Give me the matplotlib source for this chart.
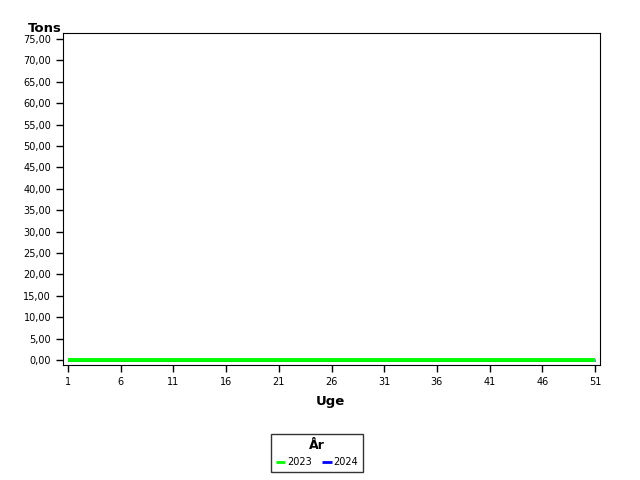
import numpy as np
import matplotlib
matplotlib.use('Agg')
import matplotlib.pyplot as plt

### Data
weeks = list(range(1, 52))
tons_2023 = [0.0] * 51
tons_2024 = [0.0] * 51
y_ticks = [0, 5, 10, 15, 20, 25, 30, 35, 40, 45, 50, 55, 60, 65, 70, 75]
x_ticks = [1, 6, 11, 16, 21, 26, 31, 36, 41, 46, 51]

### Figure
fig = plt.figure(figsize=(6.4, 4.8), dpi=100)
ax = fig.add_axes([63/640, 1-365/480, 537/640, 332/480])

## 2024 sits under 2023 (both zero)
ax.plot(weeks, tons_2024, color='#0000ff', lw=2.0, label='2024', solid_capstyle='butt')
ax.plot(weeks, tons_2023, color='#00ff00', lw=2.8, label='2023', solid_capstyle='butt')

ax.set_xlim(0.53, 51.47)
ax.set_ylim(-1.17, 76.4)
ax.set_xticks(x_ticks)
ax.set_yticks(y_ticks)
ax.set_yticklabels([('%.2f' % v).replace('.', ',') for v in y_ticks])
ax.tick_params(direction='out', length=5, width=1, labelsize=7, colors='black')

fig.text(28/640, 1-28/480, 'Tons', fontsize=9.5, fontweight='bold', va='center')
fig.text(330/640, 1-401/480, 'Uge', fontsize=9.5, fontweight='bold', ha='center', va='center')

## Legend
h, l = ax.get_legend_handles_labels()
leg = fig.legend([h[1], h[0]], [l[1], l[0]], title='År', ncol=2, loc='center',
                 bbox_to_anchor=(317/640, 1-453/480), fontsize=7, frameon=True,
                 fancybox=False, edgecolor='black', handlelength=1.0, handletextpad=0.2,
                 columnspacing=1.0, borderpad=0.5)
for line in leg.get_lines():
    line.set_linewidth(2)
    line.set_solid_capstyle('butt')
leg.get_title().set_fontweight('bold')
leg.get_title().set_fontsize(9)
leg.get_frame().set_linewidth(1)

fig.savefig('out.png', dpi=100)
